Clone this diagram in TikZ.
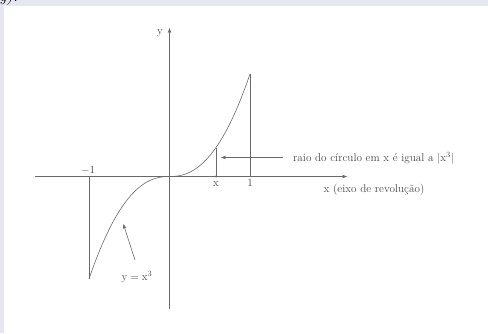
\documentclass[tikz,border=0pt]{standalone}
\usepackage{fontspec}
\usetikzlibrary{arrows.meta}
\definecolor{framec}{RGB}{230,230,240}
\definecolor{ln}{RGB}{105,105,105}
\definecolor{tx}{RGB}{70,70,70}
\begin{document}
\begin{tikzpicture}[x=1pt,y=-1pt,
  axis/.style={draw=ln,line width=0.6pt},
  tip/.style={-{Stealth[length=5pt,width=3.6pt]}},
  lbl/.style={text=tx,font=\fontsize{11.2}{12}\selectfont,inner sep=0pt}]
\useasboundingbox (0,0) rectangle (488,333);
\fill[framec] (0,0) rectangle (488,5.7);
\fill[framec] (0,0) rectangle (4.3,333);
\begin{scope}
\clip (0,0) rectangle (30,5.7);
\node[anchor=base west,font=\fontsize{16}{16}\selectfont\itshape,inner sep=0pt] (frag) at (-1,1.5) {y).};
\end{scope}
% coordinates
\coordinate (O) at (169.5,176.5);
\coordinate (xs) at (35,176.5);
\coordinate (xe) at (347,176.5);
\coordinate (ys) at (169.5,309);
\coordinate (ye) at (169.5,28);
\coordinate (m1a) at (89,176.5);
\coordinate (m1) at (89,279);
\coordinate (p1a) at (250,176.5);
\coordinate (p1) at (250,74);
\coordinate (xa) at (216,176.5);
\coordinate (xc) at (216,147.5);
\coordinate (ra) at (283,157.5);
\coordinate (rb) at (221,157.5);
\coordinate (ca) at (135,260);
\coordinate (cb) at (123.3,224);
% axes
\draw[axis,tip] (xs) -- (xe);
\draw[axis,tip] (ys) -- (ye);
% curve
\draw[axis] plot[domain=1:0.002,samples=80,variable=\t] ({169.5-80.5*\t},{176.5+102.5*\t^2.3})
  -- (O) -- plot[domain=0.002:1,samples=80,variable=\t] ({169.5+80.5*\t},{176.5-102.5*\t^2.3});
% verticals
\draw[axis] (m1a) -- (m1);
\draw[axis] (p1a) -- (p1);
\draw[axis] (xa) -- (xc);
\fill[ln] (xa) circle (1.1);
% arrows
\draw[axis,tip] (ra) -- (rb);
\draw[axis,tip] (ca) -- (cb);
% labels
\node[lbl] (ylab) at (160,33) {y};
\node[lbl] (m1lab) at (88,170) {$-1$};
\node[lbl] (xlab) at (216,184) {x};
\node[lbl] (onelab) at (250,183) {1};
\node[lbl] (axlab) at (374,190) {x (eixo de revolução)};
\node[lbl,anchor=west] (raio) at (293,158.3) {raio do círculo em x é igual a $|\mathrm{x}^3|$};
\node[lbl] (eq) at (137,277) {$\mathrm{y}=\mathrm{x}^3$};
\end{tikzpicture}
\end{document}
